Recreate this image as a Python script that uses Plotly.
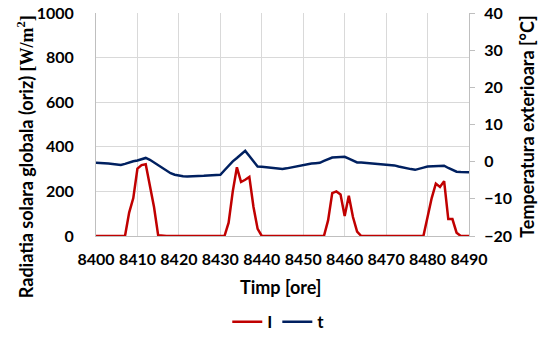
import plotly.graph_objects as go

hours = list(range(8400, 8491))

radiation_I = [
    0, 0, 0, 0, 0, 0, 0, 0, 105, 170,          # 8400-8409
    302, 318, 322, 230, 130, 3, 0, 0, 0, 0,     # 8410-8419
    0, 0, 0, 0, 0, 0, 0, 0, 0, 0,               # 8420-8429
    0, 0, 60, 200, 308, 242, 252, 265, 130, 32, # 8430-8439
    0, 0, 0, 0, 0, 0, 0, 0, 0, 0,               # 8440-8449
    0, 0, 0, 0, 0, 0, 70, 192, 200, 186,        # 8450-8459
    90, 180, 85, 20, 0, 0, 0, 0, 0, 0,          # 8460-8469
    0, 0, 0, 0, 0, 0, 0, 0, 0, 0,               # 8470-8479
    85, 170, 235, 220, 246, 76, 76, 15, 0, 0,   # 8480-8489
    0,                                          # 8490
]

temperature_t = [
    -0.3, -0.3, -0.4, -0.5, -0.6, -0.7, -0.9, -0.6, -0.2, 0.1,   # 8400-8409
    0.3, 0.6, 1.0, 0.5, -0.2, -0.9, -1.6, -2.3, -3.1, -3.5,      # 8410-8419
    -3.8, -3.9, -4.0, -4.0, -3.9, -3.9, -3.8, -3.7, -3.6, -3.6,  # 8420-8429
    -3.55, -2.3, -1.0, 0.1, 1.0, 2.0, 2.9, 1.5, 0.0, -1.3,       # 8430-8439
    -1.4, -1.5, -1.7, -1.8, -1.9, -1.95, -1.8, -1.6, -1.3, -1.0, # 8440-8449
    -0.8, -0.6, -0.5, -0.4, -0.3, 0.2, 0.7, 1.1, 1.2, 1.2,       # 8450-8459
    1.3, 0.8, 0.2, -0.2, -0.2, -0.3, -0.3, -0.4, -0.5, -0.6,     # 8460-8469
    -0.7, -0.8, -1.0, -1.3, -1.6, -1.8, -2.0, -2.2, -2.0, -1.6,  # 8470-8479
    -1.3, -1.2, -1.1, -1.05, -1.1, -1.7, -2.3, -2.7, -2.8, -2.85,# 8480-8489
    -2.85,                                                       # 8490
]

x_ticks = list(range(8400, 8491, 10))
y1_ticks = [0, 200, 400, 600, 800, 1000]
y2_ticks = [-20, -10, 0, 10, 20, 30, 40]

x_title = "Timp [ore]"
y1_title = ('Radiatia solara globala (oriz) '
            '<span style="font-family:Liberation Serif">[W/m<sup>2</sup>]</span>')
y2_title = "Temperatura exterioara [°C]"

FONT = "Lato"
GRID = "#d9d9d9"
AXIS = "#bfbfbf"
TICKFONT = dict(family=FONT, size=16, color="#000000", weight="bold")
TITLEFONT = dict(family=FONT, size=18, color="#000000", weight="bold")

fig = go.Figure()
fig.add_trace(go.Scatter(x=hours, y=radiation_I, mode="lines", name="I",
                         line=dict(color="#c00000", width=2.5)))
fig.add_trace(go.Scatter(x=hours, y=temperature_t, mode="lines", name="t",
                         yaxis="y2", line=dict(color="#002060", width=2.5)))

fig.update_layout(
    width=539, height=344,
    margin=dict(l=96, r=70, t=13, b=108, autoexpand=False),
    paper_bgcolor="white", plot_bgcolor="white",
    font=dict(family=FONT, color="#000000"),
    showlegend=True,
    legend=dict(orientation="h", x=0.49, xanchor="center", y=-0.386, yanchor="middle",
                font=dict(family=FONT, size=17, color="#000000", weight="bold"),
                tracegroupgap=0),
    xaxis=dict(
        range=[8400, 8490], tickvals=x_ticks, ticktext=[str(v) for v in x_ticks],
        showgrid=True, gridcolor=GRID, gridwidth=1, automargin=False,
        showline=True, linecolor=AXIS, linewidth=1, zeroline=False,
        ticks="", ticklabelstandoff=9, tickfont=TICKFONT,
    ),
    yaxis=dict(
        range=[0, 1000], tickvals=y1_ticks, automargin=False,
        showgrid=True, gridcolor=GRID, gridwidth=1,
        showline=True, linecolor=AXIS, linewidth=1, zeroline=False,
        ticks="", ticklabelstandoff=18, tickfont=TICKFONT,
    ),
    yaxis2=dict(
        range=[-20, 40], tickvals=y2_ticks, overlaying="y", side="right",
        showgrid=False, showline=True, linecolor=AXIS, linewidth=1, zeroline=False,
        automargin=False,
        ticks="outside", ticklen=5, tickcolor=AXIS, ticklabelstandoff=6,
        tickfont=TICKFONT,
    ),
    annotations=[
        dict(text=x_title, xref="paper", yref="paper", x=0.496, y=-0.229,
             xanchor="center", yanchor="middle", showarrow=False, font=TITLEFONT),
        dict(text=y1_title, xref="paper", yref="paper", x=-0.19, y=0.354,
             xanchor="center", yanchor="middle", showarrow=False, textangle=-90,
             font=TITLEFONT),
        dict(text=y2_title, xref="paper", yref="paper", x=1.155, y=0.489,
             xanchor="center", yanchor="middle", showarrow=False, textangle=-90,
             font=TITLEFONT),
    ],
)

fig.write_html("out.html",
               config={"displayModeBar": False},
               post_script="document.body.style.margin='0px';"
                           "document.body.style.overflow='hidden';")
